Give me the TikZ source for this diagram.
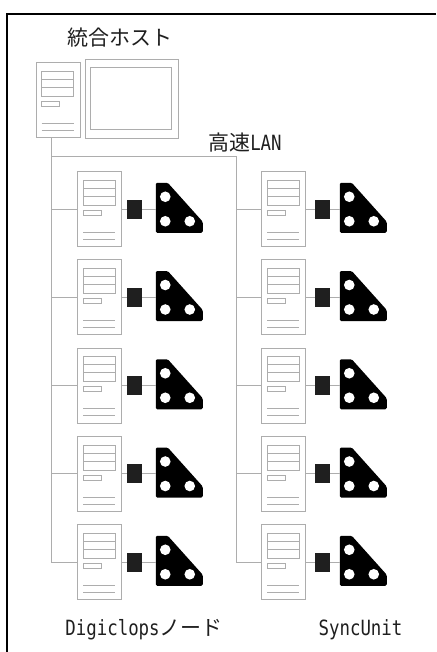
\documentclass[tikz,border=0pt]{standalone}
\usepackage{fontspec}
\newfontfamily\jp{Noto Sans CJK JP}
\newfontfamily\hw[FakeStretch=0.83]{DejaVu Sans Mono}
\usetikzlibrary{calc}
\definecolor{linegray}{gray}{0.68}
\definecolor{ink}{gray}{0.12}
\tikzset{
  wire/.style={draw=linegray, line width=0.6pt},
  lbl/.style={text=ink, inner sep=0pt, font=\fontsize{17.9}{20}\selectfont},
  tower/.style={wire, minimum width=13.2mm, minimum height=22.5mm, inner sep=0pt},
  monitor/.style={wire, minimum width=27.9mm, minimum height=23.7mm, inner sep=0pt},
  syncbox/.style={fill=ink, minimum width=4.5mm, minimum height=5.7mm, inner sep=0pt},
  camera/.style={minimum width=14.1mm, minimum height=15mm, inner sep=0pt},
}
% PC tower: drive bays, a slot and two vents
\newcommand{\towerparts}[1]{%
  \begin{scope}[shift={(#1.north west)}]
    \draw[wire] (6,9) rectangle (38,34) (6,17) -- (38,17) (6,25) -- (38,25);
    \draw[wire] (6,39) rectangle (24,44);
    \draw[wire] (6,61) -- (38,61) (6,68) -- (38,68);
  \end{scope}}
% camera: black corner plate with three holes
\newcommand{\cameraplate}[1]{%
  \begin{scope}[shift={(#1.north west)}]
    \fill[black, rounded corners=1.2pt] (0,0) -- (12,0) -- (47,39) -- (47,50) -- (0,50) -- cycle;
    \fill[white] (9.5,14) circle (5.3) (9.5,38.5) circle (5.3) (34,38.5) circle (5.3);
  \end{scope}}

\begin{document}
\begin{tikzpicture}[x=0.3mm,y=-0.3mm]
\useasboundingbox (0,0) rectangle (436,652);
% --- frame ---
\draw[line width=1.6pt] (436,14) -- (7,14) -- (7,652);

% --- host ---
\node[lbl] (title) at (120,38) {\jp 統合ホスト};
\node[tower] (host) at (58,100) {};
\towerparts{host}
\node[monitor] (screen) at (131.5,98.5) {};
\draw[wire] ($(screen.north west)+(6,9)$) rectangle ($(screen.south east)+(-7,-9)$);
\node[lbl] (lan) at (245,143) {{\jp 高速}\hw LAN};

% --- nodes: tower, sync unit, camera ---
\foreach \r in {1,...,5} {
  \pgfmathsetmacro{\yy}{209+88.25*(\r-1)}
  \node[tower] (pcL\r) at (99.5,\yy) {};
  \towerparts{pcL\r}
  \node[syncbox] (suL\r) at (134.5,\yy) {};
  \node[camera] (camL\r) at (179.5,\yy-1) {};
  \cameraplate{camL\r}
  \node[tower] (pcR\r) at (283.5,\yy) {};
  \towerparts{pcR\r}
  \node[syncbox] (suR\r) at (322.5,\yy) {};
  \node[camera] (camR\r) at (363.5,\yy-1) {};
  \cameraplate{camR\r}
  \draw[wire] (pcL\r.east) -- (suL\r.west);
  \draw[wire] (suL\r.east) -- (suL\r.east -| camL\r.west);
  \draw[wire] (pcR\r.east) -- (suR\r.west);
  \draw[wire] (suR\r.east) -- (suR\r.east -| camR\r.west);
}

% --- LAN ---
\coordinate (lanL) at (51,156);
\coordinate (lanR) at (236,156);
\draw[wire] (host.south -| lanL) -- (lanL) -- (lanR) -- (lanR |- pcR5.west) -- (pcR5.west);
\draw[wire] (lanL) -- (lanL |- pcL5.west) -- (pcL5.west);
\foreach \r in {1,...,4} {
  \draw[wire] (lanL |- pcL\r.west) -- (pcL\r.west);
  \draw[wire] (lanR |- pcR\r.west) -- (pcR\r.west);
}

\node[lbl] (diglbl) at (144,630) {{\hw Digiclops}\jp ノード};
\node[lbl] (synclbl) at (360.5,630) {\hw SyncUnit};
\end{tikzpicture}
\end{document}
